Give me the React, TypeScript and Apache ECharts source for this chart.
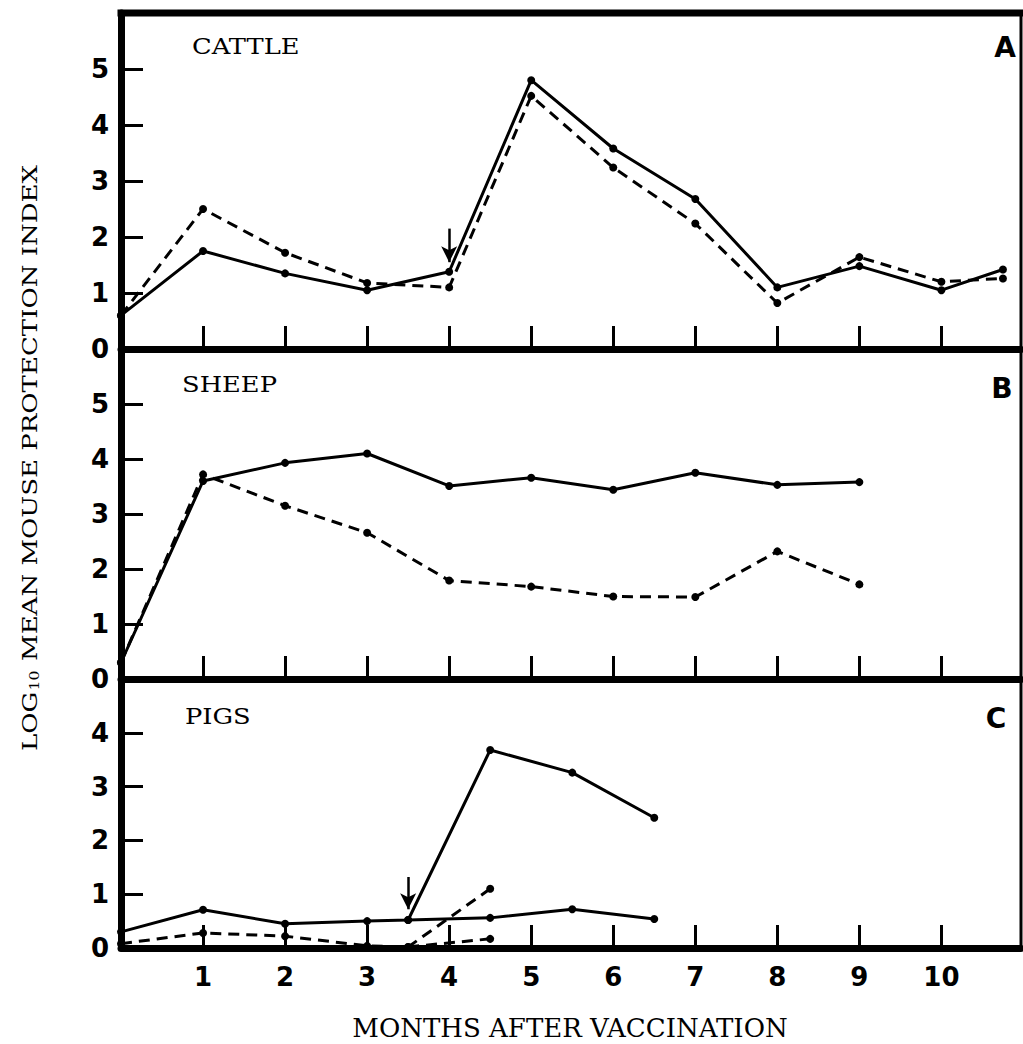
import React, { useEffect, useRef } from 'react';
import * as echarts from 'echarts';

// Month ticks / labels
const monthTicks = [1, 2, 3, 4, 5, 6, 7, 8, 9, 10];
const yLabelsAB = [0, 1, 2, 3, 4, 5];
const yLabelsC = [0, 1, 2, 3, 4];
const yTicksAB = [1, 2, 3, 4, 5];
const yTicksC = [1, 2, 3, 4];
const panelMax = [6, 6, 5];

// Panel A — cattle
const cattleSolid = [[0, 0.6], [1, 1.75], [2, 1.35], [3, 1.05], [4, 1.38], [5, 4.8], [6, 3.58], [7, 2.68], [8, 1.1], [9, 1.48], [10, 1.05], [10.75, 1.42]];
const cattleDashed = [[0, 0.6], [1, 2.5], [2, 1.72], [3, 1.18], [4, 1.1], [5, 4.52], [6, 3.24], [7, 2.24], [8, 0.82], [9, 1.64], [10, 1.2], [10.75, 1.26]];
const cattleArrow = [[4, 2.15], [4, 1.55]];

// Panel B — sheep
const sheepSolid = [[0, 0.3], [1, 3.6], [2, 3.93], [3, 4.1], [4, 3.51], [5, 3.66], [6, 3.44], [7, 3.75], [8, 3.53], [9, 3.58]];
const sheepDashed = [[0, 0.3], [1, 3.72], [2, 3.15], [3, 2.66], [4, 1.79], [5, 1.68], [6, 1.5], [7, 1.49], [8, 2.32], [9, 1.72]];

// Panel C — pigs
const pigsSolidBoosted = [[0, 0.3], [1, 0.71], [2, 0.45], [3, 0.5], [3.5, 0.52], [4.5, 3.68], [5.5, 3.26], [6.5, 2.42]];
const pigsSolidFlat = [[3.5, 0.52], [4.5, 0.56], [5.5, 0.72], [6.5, 0.54]];
const pigsDashedBoosted = [[0, 0.08], [1, 0.28], [2, 0.22], [3, 0.04], [3.5, 0.02], [4.5, 1.1]];
const pigsDashedFlat = [[3.5, 0.02], [4.5, 0.17]];
const pigsArrow = [[3.5, 1.32], [3.5, 0.72]];

const BLACK = '#000';
const DASH = [11, 7];

function lineSeries(data: number[][], idx: number, dashed: boolean, arrow?: number[][]) {
  const s: any = {
    type: 'line',
    xAxisIndex: idx,
    yAxisIndex: idx,
    data,
    symbol: 'circle',
    symbolSize: 8,
    showSymbol: true,
    lineStyle: { color: BLACK, width: 3, type: dashed ? DASH : 'solid' },
    itemStyle: { color: BLACK },
    z: 5,
  };
  if (arrow) {
    s.markLine = {
      silent: true,
      symbol: ['none', 'arrow'],
      symbolSize: [12, 16],
      label: { show: false },
      lineStyle: { color: BLACK, width: 2.5, type: 'solid' },
      data: [[{ coord: arrow[0] }, { coord: arrow[1] }]],
    };
  }
  return s;
}

const GL = 121;
const GW = 900;
const grids = [
  { left: GL, top: 13, width: GW, height: 336 },
  { left: GL, top: 349, width: GW, height: 330 },
  { left: GL, top: 679, width: GW, height: 269 },
];

const digitFont = { fontFamily: 'DejaVu Sans', fontWeight: 'bold' as const, fontSize: 26, color: BLACK };

const option: any = {
  animation: false,
  backgroundColor: '#fff',
  grid: grids,
  xAxis: grids.map((_, i) => ({
    type: 'value',
    gridIndex: i,
    min: 0,
    max: 10.97,
    axisLine: { show: true, onZero: false, lineStyle: { color: BLACK, width: 7 } },
    axisTick: { show: true, inside: true, length: 23, customValues: monthTicks, lineStyle: { color: BLACK, width: 3 } },
    axisLabel: i === 2 ? { show: true, customValues: monthTicks, margin: 16, ...digitFont } : { show: false },
    splitLine: { show: false },
  })),
  yAxis: grids.map((_, i) => ({
    type: 'value',
    gridIndex: i,
    min: 0,
    max: panelMax[i],
    axisLine: { show: true, onZero: false, lineStyle: { color: BLACK, width: 7 } },
    axisTick: { show: true, inside: true, length: 22, customValues: i < 2 ? yTicksAB : yTicksC, lineStyle: { color: BLACK, width: 3 } },
    axisLabel: { show: true, customValues: i < 2 ? yLabelsAB : yLabelsC, margin: 12, ...digitFont },
    splitLine: { show: false },
  })),
  series: [
    lineSeries(cattleSolid, 0, false, cattleArrow),
    lineSeries(cattleDashed, 0, true),
    lineSeries(sheepSolid, 1, false),
    lineSeries(sheepDashed, 1, true),
    lineSeries(pigsSolidBoosted, 2, false, pigsArrow),
    lineSeries(pigsSolidFlat, 2, false),
    lineSeries(pigsDashedBoosted, 2, true),
    lineSeries(pigsDashedFlat, 2, true),
  ],
  graphic: [
    { type: 'line', shape: { x1: 117.5, y1: 13, x2: 1023, y2: 13 }, style: { stroke: BLACK, lineWidth: 7 }, z: 10 },
    { type: 'line', shape: { x1: 1021, y1: 13, x2: 1021, y2: 948 }, style: { stroke: BLACK, lineWidth: 3 }, z: 10 },
    { type: 'text', x: 192, y: 47, scaleX: 1.17, style: { text: 'CATTLE', fontFamily: 'DejaVu Serif', fontSize: 22, fill: BLACK, textAlign: 'left', textVerticalAlign: 'middle' } },
    { type: 'text', x: 182, y: 385, scaleX: 1.17, style: { text: 'SHEEP', fontFamily: 'DejaVu Serif', fontSize: 22, fill: BLACK, textAlign: 'left', textVerticalAlign: 'middle' } },
    { type: 'text', x: 185, y: 717, scaleX: 1.17, style: { text: 'PIGS', fontFamily: 'DejaVu Serif', fontSize: 22, fill: BLACK, textAlign: 'left', textVerticalAlign: 'middle' } },
    { type: 'text', x: 1005, y: 47, style: { text: 'A', fontFamily: 'DejaVu Sans', fontWeight: 'bold', fontSize: 28, fill: BLACK, textAlign: 'center', textVerticalAlign: 'middle' } },
    { type: 'text', x: 1002, y: 388, style: { text: 'B', fontFamily: 'DejaVu Sans', fontWeight: 'bold', fontSize: 28, fill: BLACK, textAlign: 'center', textVerticalAlign: 'middle' } },
    { type: 'text', x: 996, y: 718, style: { text: 'C', fontFamily: 'DejaVu Sans', fontWeight: 'bold', fontSize: 28, fill: BLACK, textAlign: 'center', textVerticalAlign: 'middle' } },
    {
      type: 'text', x: 30, y: 458, rotation: Math.PI / 2, scaleX: 1.3,
      style: {
        text: '{a|LOG}{s|10}{a| MEAN MOUSE PROTECTION INDEX}',
        fill: BLACK, textAlign: 'center', textVerticalAlign: 'middle',
        rich: {
          a: { fontFamily: 'DejaVu Serif', fontSize: 20, fill: BLACK, color: BLACK },
          s: { fontFamily: 'DejaVu Serif', fontSize: 12, fill: BLACK, color: BLACK, padding: [10, 1, 0, 1] },
        },
      },
    },
    { type: 'text', x: 570, y: 1028, style: { text: 'MONTHS AFTER VACCINATION', fontFamily: 'DejaVu Serif', fontSize: 26, fill: BLACK, textAlign: 'center', textVerticalAlign: 'middle' } },
  ],
};

export default function App() {
  const ref = useRef<HTMLDivElement>(null);
  useEffect(() => {
    const chart = echarts.init(ref.current!, undefined, { renderer: 'svg' });
    chart.setOption(option);
    return () => chart.dispose();
  }, []);
  return <div ref={ref} style={{ position: 'fixed', left: 0, top: 0, width: 1023, height: 1044, background: '#fff' }} />;
}
